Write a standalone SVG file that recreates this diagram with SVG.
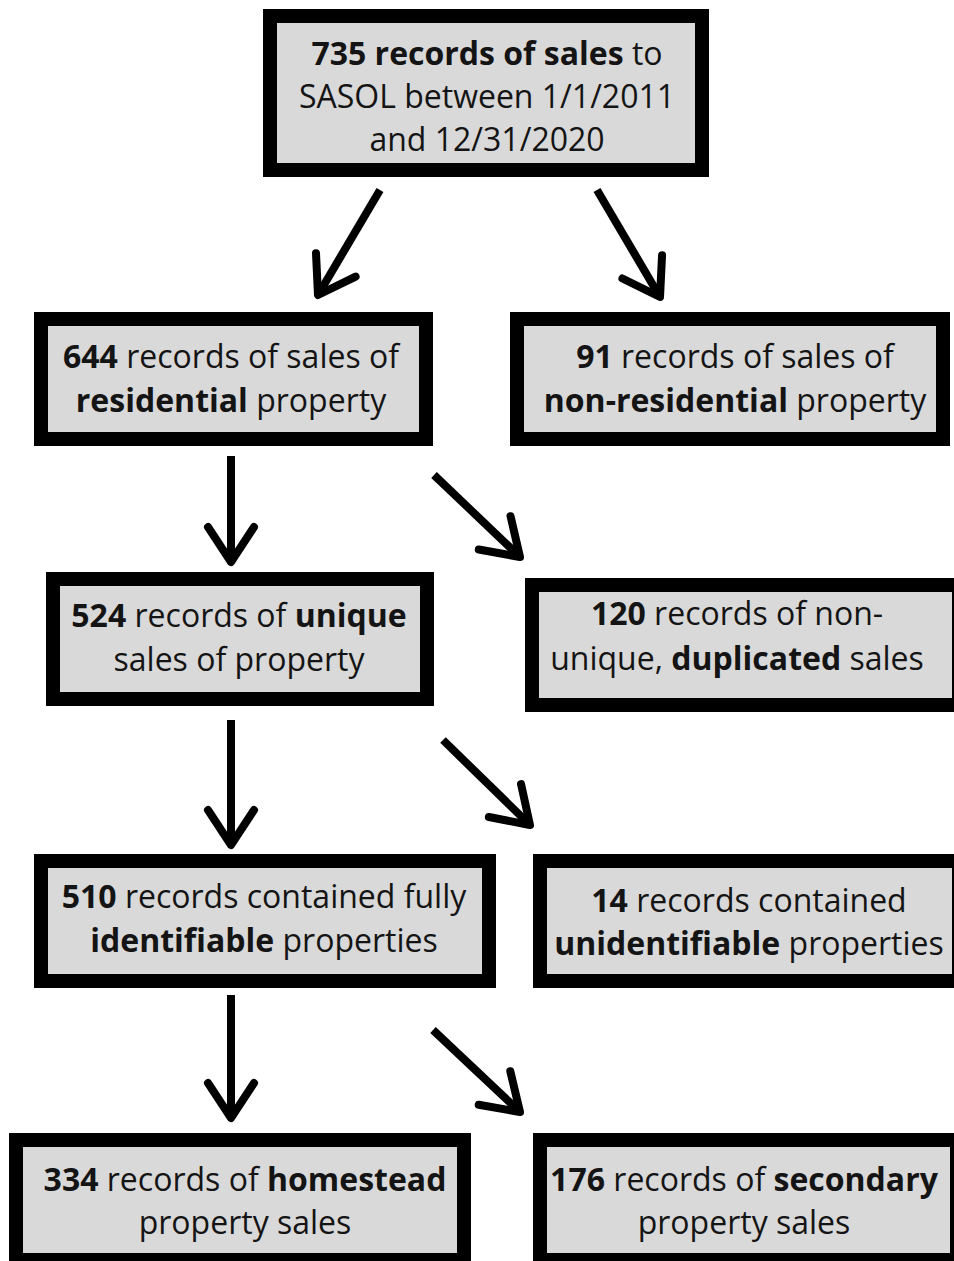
<svg xmlns="http://www.w3.org/2000/svg" width="954" height="1261" viewBox="0 0 954 1261">
<style>
.box{fill:#d9d9d9;stroke:#000;stroke-width:14}
.t{font-family:"Open Sans","Liberation Sans",sans-serif;font-size:32px;fill:#141414;text-anchor:middle}
.b{font-weight:bold}
.arr{stroke:#000;stroke-width:8;fill:none;marker-end:url(#ah)}
</style>
<defs>
<marker id="ah" markerUnits="userSpaceOnUse" viewBox="-45 -30 50 60" refX="0" refY="0" markerWidth="50" markerHeight="60" orient="auto" overflow="visible">
<path d="M-35,-23 L0,0 L-35,23" fill="none" stroke="#000" stroke-width="8" stroke-linecap="round" stroke-linejoin="round"/>
</marker>
</defs>
<rect width="954" height="1261" fill="#fff"/>
<g id="connectors">
<path class="arr" d="M380,190 L318,295"/>
<path class="arr" d="M597,190 L660,297"/>
<path class="arr" d="M231,456 L231,562"/>
<path class="arr" d="M434,475 L520,557"/>
<path class="arr" d="M231,720 L231,845"/>
<path class="arr" d="M443,740 L530,825"/>
<path class="arr" d="M231,995 L231,1118"/>
<path class="arr" d="M433,1030 L520,1112"/>
</g>
<g id="n735">
<rect class="box" x="270" y="16" width="432" height="154"/>
<text class="t" x="487" y="65"><tspan class="b">735 records of sales</tspan> to</text>
<text class="t" x="487" y="108">SASOL between 1/1/2011</text>
<text class="t" x="487" y="151">and 12/31/2020</text>
</g>
<g id="n644">
<rect class="box" x="41" y="319" width="385" height="120"/>
<text class="t" x="231" y="368"><tspan class="b">644</tspan> records of sales of</text>
<text class="t" x="231" y="412"><tspan class="b">residential</tspan> property</text>
</g>
<g id="n91">
<rect class="box" x="517" y="319" width="426" height="120"/>
<text class="t" x="735" y="368"><tspan class="b">91</tspan> records of sales of</text>
<text class="t" x="735" y="412"><tspan class="b">non-residential</tspan> property</text>
</g>
<g id="n524">
<rect class="box" x="53" y="579" width="374" height="120"/>
<text class="t" x="239" y="627"><tspan class="b">524</tspan> records of <tspan class="b">unique</tspan></text>
<text class="t" x="239" y="671">sales of property</text>
</g>
<g id="n120">
<rect class="box" x="532" y="585" width="427" height="120"/>
<text class="t" x="737" y="625"><tspan class="b">120</tspan> records of non-</text>
<text class="t" x="737" y="670">unique, <tspan class="b">duplicated</tspan> sales</text>
</g>
<g id="n510">
<rect class="box" x="41" y="861" width="448" height="120"/>
<text class="t" x="264" y="908"><tspan class="b">510</tspan> records contained fully</text>
<text class="t" x="264" y="952"><tspan class="b">identifiable</tspan> properties</text>
</g>
<g id="n14">
<rect class="box" x="540" y="861" width="419" height="120"/>
<text class="t" x="749" y="912"><tspan class="b">14</tspan> records contained</text>
<text class="t" x="749" y="955"><tspan class="b">unidentifiable</tspan> properties</text>
</g>
<g id="n334">
<rect class="box" x="16" y="1140" width="448" height="120"/>
<text class="t" x="245" y="1191"><tspan class="b">334</tspan> records of <tspan class="b">homestead</tspan></text>
<text class="t" x="245" y="1234">property sales</text>
</g>
<g id="n176">
<rect class="box" x="540" y="1140" width="417" height="120"/>
<text class="t" x="744" y="1191"><tspan class="b">176</tspan> records of <tspan class="b">secondary</tspan></text>
<text class="t" x="744" y="1234">property sales</text>
</g>
</svg>
